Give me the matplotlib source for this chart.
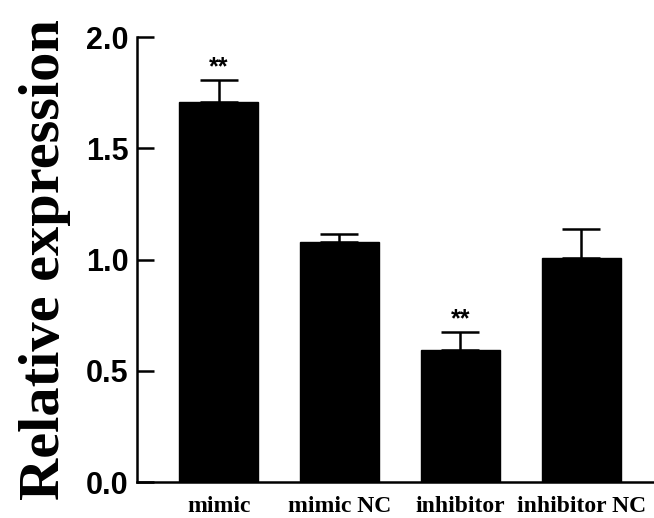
import matplotlib
matplotlib.use("Agg")
import matplotlib.pyplot as plt
import numpy as np

groups = ["mimic", "mimic NC", "inhibitor", "inhibitor NC"]
means = [1.71, 1.08, 0.595, 1.005]
errs = [0.095, 0.033, 0.077, 0.13]
stars = ["**", "", "**", ""]

fig = plt.figure(figsize=(6.54, 5.18), dpi=100)
ax = fig.add_axes([137 / 654, 1 - 482 / 518, 1 - 137 / 654, (482 - 37) / 518])

x = np.arange(len(groups))
ax.bar(x, means, width=0.66, color="black", edgecolor="black", zorder=2)
ax.errorbar(x, means, yerr=[np.zeros(len(errs)), errs], fmt="none",
            ecolor="black", elinewidth=1.8, capsize=14, capthick=1.8, zorder=1)

for xi, m, e, s in zip(x, means, errs, stars):
    if s:
        ax.text(xi, m + e + 0.06, s, ha="center", va="center",
                fontsize=18, family="Liberation Sans", fontweight="bold")

ax.set_xlim(-0.674, 3.6)
ax.set_ylim(0, 2.0)
ax.set_yticks([0.0, 0.5, 1.0, 1.5, 2.0])
ax.set_yticklabels(["0.0", "0.5", "1.0", "1.5", "2.0"],
                   family="Liberation Sans", fontweight="bold", fontsize=22)
ax.set_xticks(x)
ax.set_xticklabels(groups, family="Liberation Serif", fontweight="bold", fontsize=17)

ax.spines["top"].set_visible(False)
ax.spines["right"].set_visible(False)
ax.spines["left"].set_linewidth(1.8)
ax.spines["bottom"].set_linewidth(1.8)
ax.tick_params(axis="y", direction="in", length=12, width=1.8, pad=6)
ax.tick_params(axis="x", length=0, pad=10)

ax.set_ylabel("Relative expression", family="Liberation Serif",
              fontweight="bold", fontsize=42)
ax.yaxis.set_label_coords(-0.128, 0.5)

fig.savefig("out.png", dpi=100)
